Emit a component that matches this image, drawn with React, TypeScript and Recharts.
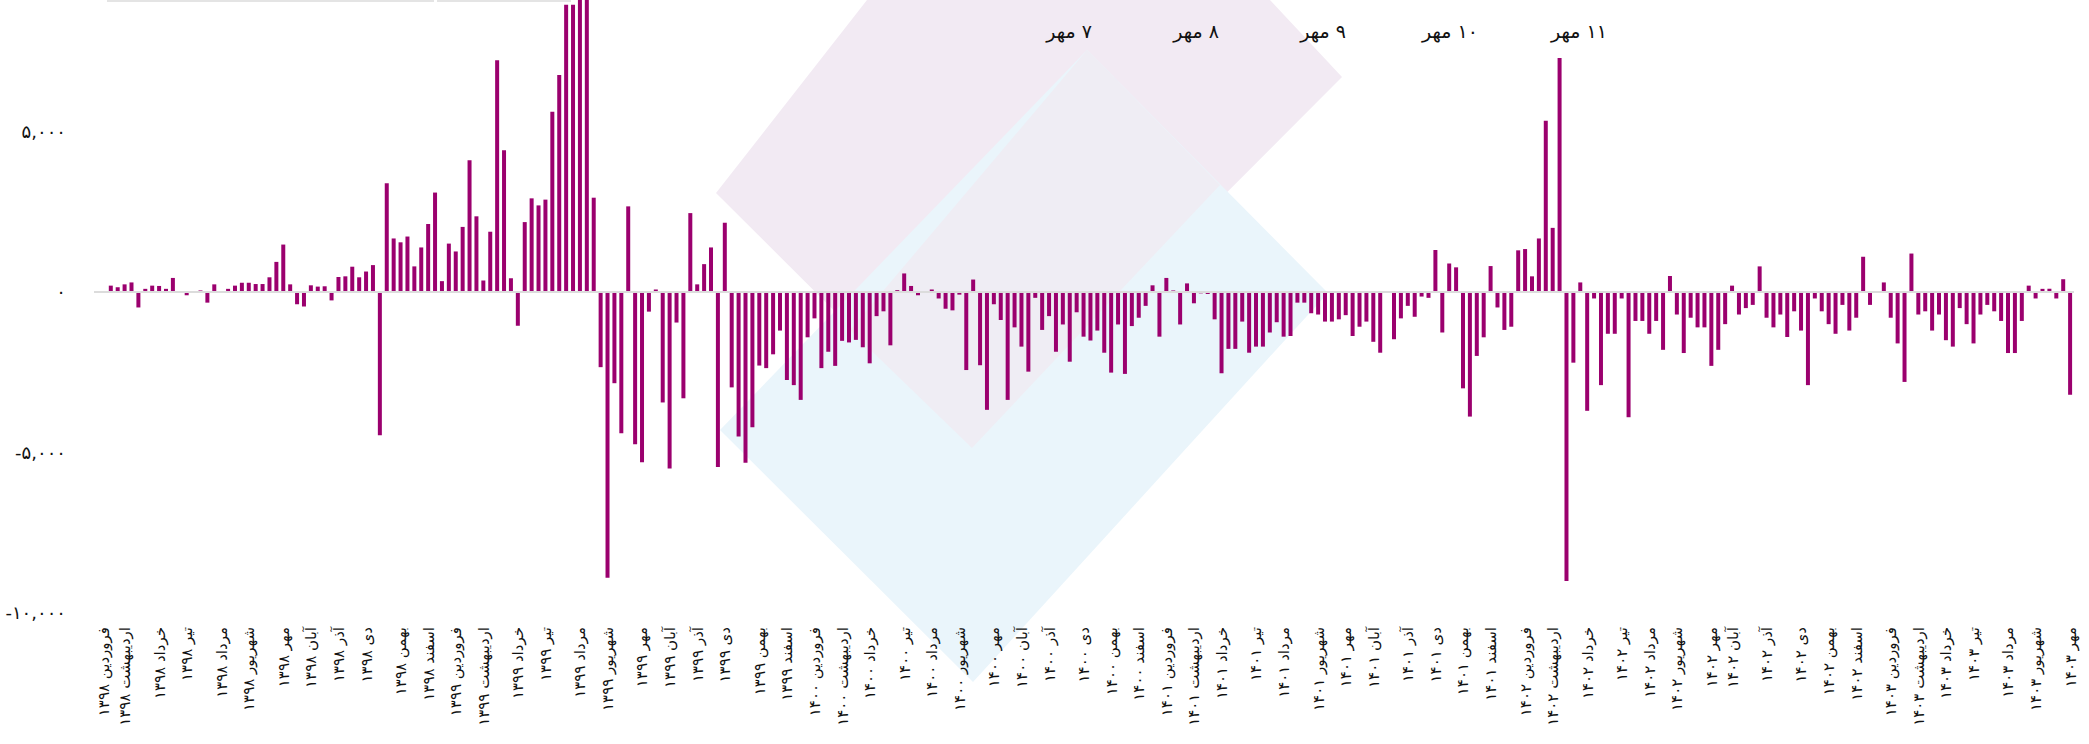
import React from 'react';
import { BarChart, Bar, XAxis, YAxis, ReferenceLine } from 'recharts';

// weekly net values, grouped roughly by Persian year
const w1398 = [
  20, 30, 200, 150, 240, 300, -480, 100, 200, 190, 100, 440, 0, -100, 20, 50, -330, 240, 10, 100,
  200, 290, 290, 250, 250, 460, 940, 1480, 240, -380, -450, 210, 170, 180, -260, 470, 490, 790, 460, 640,
  840, -4460, 3390, 1670, 1550, 1730, 800, 1390, 2120, 3100, 340, 1510,
];
const w1399 = [
  1265, 2030, 4110, 2360, 360, 1880, 7220, 4420, 430, -1050, 2180, 2920, 2700, 2880, 5620, 6760, 8950, 8950, 10000, 10500,
  2940, -2340, -8900, -2840, -4400, 2670, -4740, -5300, -610, 80, -3440, -5500, -950, -3310, 2460, 240, 870, 1390, -5450, 2160,
  -2970, -4500, -5320, -4210, -2290, -2370, -1940, -1200, -2740, -2900, -3360, -1410,
];
const w1400 = [
  -820, -2370, -1860, -2300, -1520, -1570, -1490, -1720, -2220, -750, -600, -1660, 60, 580, 190, -100, 0, 80, -200, -520,
  -570, -80, -2430, 390, -2280, -3670, -380, -870, -3360, -1100, -1700, -2480, -180, -1180, -750, -1860, -1010, -2170, -630, -1390,
  -1510, -1200, -1890, -2510, -1010, -2550, -1060, -800, -430, 210, -1390,
];
const w1401 = [
  440, 50, -1010, 270, -350, -40, -60, -850, -2530, -1770, -1770, -920, -1890, -1700, -1700, -1260, -940, -1390, -1370, -330,
  -330, -660, -700, -920, -920, -850, -720, -1370, -1080, -920, -1550, -1890, 0, -1470, -820, -430, -770, -140, -180, 1310,
  -1260, 890, 770, -3000, -3880, -1990, -1410, 810, -480, -1180, -1080, 1300,
];
const w1402 = [
  1340, 490, 1670, 5340, 2000, 7290, -9000, -2200, 300, -3700, -200, -2900, -1300, -1300, -200, -3900, -900, -900, -1300, -900,
  -1800, 500, -700, -1900, -800, -1100, -1100, -2300, -1800, -1000, 200, -700, -500, -400, 800, -800, -1100, -700, -1400, -600,
  -1200, -2900, -200, -600, -1000, -1300, -400, -1200, -800, 1100, -400, 0, 300,
];
const w1403 = [
  -800, -1600, -2800, 1200, -700, -600, -1200, -700, -1500, -1700, -500, -1000, -1600, -700, -400, -600, -900, -1900, -1900, -900,
  200, -200, 100, 100, -200, 400, -3200,
];

const monthNames = ['فروردین', 'اردیبهشت', 'خرداد', 'تیر', 'مرداد', 'شهریور', 'مهر', 'آبان', 'آذر', 'دی', 'بهمن', 'اسفند'];
const firstYear = 1398;
// week number (1-based) where each month label sits
const monthStartWeek = [
  2, 5, 10, 14, 19, 23, 28, 32, 36, 40, 45, 49,
  53, 57, 62, 66, 71, 75, 80, 84, 88, 92, 97, 101,
  105, 109, 113, 118, 122, 126, 131, 135, 139, 144, 148, 152,
  156, 160, 164, 169, 173, 178, 182, 186, 191, 195, 199, 203,
  208, 212, 217, 222, 226, 230, 235, 238, 243, 248, 252, 256,
  261, 265, 269, 273, 278, 282, 287,
];
const yTicks = [-10000, -5000, 0, 5000];
const notes = ['۷ مهر', '۸ مهر', '۹ مهر', '۱۰ مهر', '۱۱ مهر'];

const FONT = "'DejaVu Sans', 'Noto Sans', sans-serif";
const BAR = '#9b006e';

const faDigits = (s: string) => s.replace(/[0-9]/g, (d) => '۰۱۲۳۴۵۶۷۸۹'[Number(d)]);

const values = [...w1398, ...w1399, ...w1400, ...w1401, ...w1402, ...w1403];
const data = values.map((v, i) => ({ week: i + 1, value: v }));

const monthLabel: Record<number, string> = {};
monthStartWeek.forEach((w, k) => {
  monthLabel[w] = monthNames[k % 12] + ' ' + faDigits(String(firstYear + Math.floor(k / 12)));
});

const MonthTick = ({ x, payload }: any) => {
  const label = monthLabel[payload.value];
  if (!label) return null;
  return (
    <g transform={`translate(${x},627) rotate(-90)`}>
      <text
        x={0}
        y={0}
        textAnchor="end"
        dominantBaseline="central"
        fontSize={15}
        fill="#111"
        fontFamily={FONT}
      >
        {'\u202B' + label + '\u202C'}
      </text>
    </g>
  );
};

const notePos = [1069, 1196, 1323, 1450, 1579];

export default function App() {
  return (
    <div style={{ position: 'relative', width: 2089, height: 744, overflow: 'hidden', fontFamily: FONT }}>
      <style>{'body{margin:0}'}</style>
      {/* faint logo in the background */}
      <svg width={2089} height={744} style={{ position: 'absolute', left: 0, top: 0 }}>
        <polygon points="716,193 867,0 1270,0 1342,77 972,448" fill="#f2eaf3" />
        <polygon points="720,430 1087,50 1328,293 973,682" fill="#eaf5fb" />
        <polygon points="850,330 972,448 1220,185 1087,50" fill="#efedf4" />
        <rect x={107} y={0} width={327} height={2} fill="#e4e4e4" />
        <rect x={437} y={0} width={134} height={2} fill="#e4e4e4" />
      </svg>
      <div style={{ position: 'absolute', left: 0, top: 0 }}>
        <BarChart
          width={2089}
          height={744}
          data={data}
          margin={{ top: 0, right: 15, bottom: 0, left: 0 }}
          barSize={4}
        >
          <XAxis
            dataKey="week"
            type="category"
            ticks={monthStartWeek}
            interval={0}
            height={131}
            tickLine={false}
            axisLine={false}
            tick={<MonthTick />}
          />
          <YAxis
            type="number"
            domain={[-10000, 9100]}
            allowDataOverflow
            ticks={yTicks}
            width={94}
            tickLine={false}
            axisLine={false}
            tickMargin={22}
            tick={{ fontSize: 18, fill: '#111', fontFamily: FONT }}
            tickFormatter={(v: number) => faDigits(v.toLocaleString('en-US'))}
          />
          <ReferenceLine y={0} stroke="#dcdcdc" strokeWidth={2} />
          <Bar dataKey="value" fill={BAR} isAnimationActive={false} />
        </BarChart>
      </div>
      {notes.map((n, i) => (
        <div
          key={n}
          dir="rtl"
          style={{
            position: 'absolute',
            left: notePos[i],
            top: 31,
            transform: 'translate(-50%, -50%)',
            fontSize: 19,
            color: '#111',
            whiteSpace: 'nowrap',
          }}
        >
          {n}
        </div>
      ))}
    </div>
  );
}
